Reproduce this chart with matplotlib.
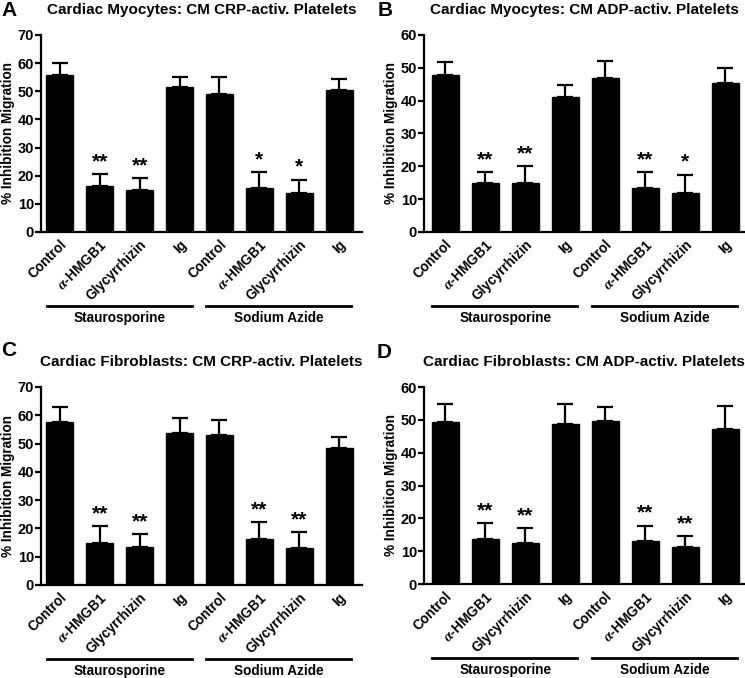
import matplotlib
matplotlib.use('Agg')
import matplotlib.pyplot as plt
import matplotlib.transforms as mtransforms

plt.rcParams['font.family'] = ['Liberation Sans', 'DejaVu Sans']
plt.rcParams['font.weight'] = 'bold'
plt.rcParams['mathtext.fontset'] = 'stix'

# categories and group labels
categories = ['Control', r'$\alpha$-HMGB1', 'Glycyrrhizin', 'Ig',
              'Control', r'$\alpha$-HMGB1', 'Glycyrrhizin', 'Ig']
groups = ['Staurosporine', 'Sodium Azide']

# means
mean_a = [55.8, 16.2, 14.8, 51.4, 49.0, 15.6, 13.8, 50.3]
mean_b = [47.8, 14.9, 14.9, 41.1, 47.0, 13.4, 11.9, 45.5]
mean_c = [57.6, 15.0, 13.4, 53.6, 53.2, 16.4, 13.0, 48.6]
mean_d = [49.3, 13.7, 12.4, 48.7, 49.5, 13.2, 11.2, 47.3]

# top of the error bars
top_a = [59.9, 20.6, 19.2, 55.0, 55.2, 21.2, 18.6, 54.4]
top_b = [51.7, 18.2, 20.0, 44.7, 52.1, 18.2, 17.5, 50.1]
top_c = [62.9, 20.7, 17.9, 59.1, 58.4, 22.1, 18.6, 52.4]
top_d = [54.7, 18.5, 17.0, 54.7, 53.9, 17.8, 14.5, 54.1]

# significance marks
stars_a = ['', '**', '**', '', '', '*', '*', '']
stars_b = ['', '**', '**', '', '', '**', '*', '']
stars_c = ['', '**', '**', '', '', '**', '**', '']
stars_d = ['', '**', '**', '', '', '**', '**', '']

panels = [
    ('A', 'Cardiac Myocytes: CM CRP-activ. Platelets', mean_a, top_a, stars_a, 70),
    ('B', 'Cardiac Myocytes: CM ADP-activ. Platelets', mean_b, top_b, stars_b, 60),
    ('C', 'Cardiac Fibroblasts: CM CRP-activ. Platelets', mean_c, top_c, stars_c, 70),
    ('D', 'Cardiac Fibroblasts: CM ADP-activ. Platelets', mean_d, top_d, stars_d, 60),
]

W, H = 745, 678
fig = plt.figure(figsize=(W / 100, H / 100), dpi=100)

# axes boxes in pixels: left, top, right, bottom
boxes = [(41, 35, 362, 232), (424, 35, 744, 232),
         (41, 387, 362, 585), (424, 387, 744, 584)]
xlims = [(-0.475, 7.575), (-0.53, 7.47), (-0.475, 7.575), (-0.53, 7.47)]
letter_pos = [(9, 11), (385, 11), (9, 351), (384, 353)]

for (letter, title, mean, top, stars, ymax), box, xl, lp in zip(panels, boxes, xlims, letter_pos):
    l, t, r, b = box
    hgt = b - t
    ax = fig.add_axes([l / W, 1 - b / H, (r - l) / W, hgt / H])
    x = list(range(len(categories)))
    err = [tp - m for tp, m in zip(top, mean)]
    ax.errorbar(x, mean, yerr=[[0] * len(mean), err], fmt='none', ecolor='black',
                elinewidth=1.6, capsize=5.5, capthick=1.6, zorder=1)
    ax.bar(x, mean, width=0.68, color='black', edgecolor='black', zorder=2)
    for xi, tp, s in zip(x, top, stars):
        if s:
            ax.annotate(s, (xi, tp), xytext=(0, 9), textcoords='offset points',
                        ha='center', va='center', fontsize=15, fontweight='bold')
    ax.set_xlim(*xl)
    ax.set_ylim(0, ymax)
    ax.set_yticks(range(0, ymax + 1, 10))
    ax.set_xticks(x)
    ax.set_xticklabels(categories, rotation=45, ha='right', rotation_mode='anchor',
                       fontsize=9.8, fontweight='bold')
    ax.tick_params(axis='x', length=0, pad=4)
    ax.tick_params(axis='y', length=4, width=1.6, labelsize=10.5, pad=1)
    for lab in ax.get_yticklabels():
        lab.set_fontweight('bold')
    ax.spines['top'].set_visible(False)
    ax.spines['right'].set_visible(False)
    ax.spines['left'].set_linewidth(1.6)
    ax.spines['bottom'].set_linewidth(1.6)
    ax.set_ylabel('% Inhibition Migration', fontsize=9.8, fontweight='bold', labelpad=2)

    # group brackets below the tick labels (offsets in pixels under the axis)
    trans = mtransforms.blended_transform_factory(ax.transData, ax.transAxes)
    for gi, g in enumerate(groups):
        start = gi * 4
        ax.plot([start - 0.33, start + 3.3], [-74 / hgt] * 2, color='black',
                lw=2, transform=trans, clip_on=False)
        ax.text(start + 1.5, -86 / hgt, g, transform=trans, ha='center',
                va='center', fontsize=9.8, fontweight='bold')

    ax.text(0.5, 1 + 25 / hgt, title, transform=ax.transAxes, ha='center',
            va='center', fontsize=11, fontweight='bold')
    fig.text(lp[0] / W, 1 - lp[1] / H, letter, ha='center', va='center',
             fontsize=15, fontweight='bold')

fig.savefig('out.png', dpi=100)
